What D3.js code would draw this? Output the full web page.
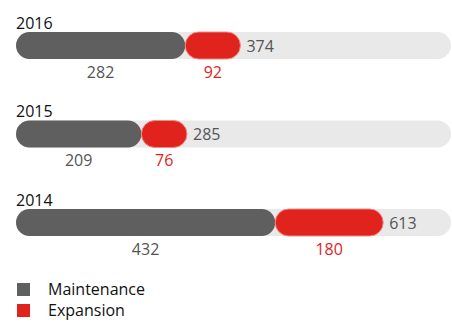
<!DOCTYPE html>
<html>
<head>
<meta charset="utf-8">
<script src="https://cdn.jsdelivr.net/npm/d3@7"></script>
<style>
body { margin: 0; background: #fff; }
svg text { font-family: "Open Sans", "Noto Sans", sans-serif; }
</style>
</head>
<body>
<svg id="svg" width="452" height="322"></svg>
<script>
const years = ['2016', '2015', '2014'];
const maintenance = [282, 209, 432];
const expansion = [92, 76, 180];
const totals = [374, 285, 613];
const legendLabels = ['Maintenance', 'Expansion'];

const grey = '#5f5f5f', red = '#e0231c', track = '#e9e9e9';
const barH = 27;

const svg = d3.select('#svg');

const x = d3.scaleLinear().domain([0, 725]).range([16, 451]);
const y = d3.scalePoint().domain(years).range([45.5, 222.5]);

const rows = svg.selectAll('g.row')
    .data(years.map((yr, i) => ({yr, m: maintenance[i], e: expansion[i], t: totals[i]})))
    .join('g')
    .attr('class', 'row')
    .attr('transform', d => `translate(0,${y(d.yr)})`);

// background track
rows.append('rect')
    .attr('x', x(0)).attr('y', -barH / 2)
    .attr('width', x(725) - x(0)).attr('height', barH)
    .attr('rx', barH / 2)
    .attr('fill', track);

// maintenance
rows.append('rect')
    .attr('x', x(0)).attr('y', -barH / 2)
    .attr('width', d => x(d.m) - x(0)).attr('height', barH)
    .attr('rx', barH / 2)
    .attr('fill', grey);

// expansion
rows.append('rect')
    .attr('x', d => x(d.m)).attr('y', -barH / 2)
    .attr('width', d => x(d.m + d.e) - x(d.m)).attr('height', barH)
    .attr('rx', barH / 2)
    .attr('fill', red)
    .attr('stroke', '#f08a85').attr('stroke-width', 1);

rows.append('text')
    .attr('x', x(0)).attr('y', -17)
    .attr('font-size', 16).attr('fill', '#111')
    .text(d => d.yr);

rows.append('text')
    .attr('x', d => x(d.m + d.e) + 6).attr('y', 6)
    .attr('font-size', 16).attr('fill', '#555')
    .text(d => d.t);

rows.append('text')
    .attr('x', d => (x(0) + x(d.m)) / 2).attr('y', 32)
    .attr('text-anchor', 'middle')
    .attr('font-size', 16).attr('fill', '#555')
    .text(d => d.m);

rows.append('text')
    .attr('x', d => (x(d.m) + x(d.m + d.e)) / 2).attr('y', 32)
    .attr('text-anchor', 'middle')
    .attr('font-size', 16).attr('fill', red)
    .text(d => d.e);

// legend
const legend = svg.selectAll('g.legend')
    .data(legendLabels)
    .join('g')
    .attr('class', 'legend')
    .attr('transform', (d, i) => `translate(17,${283 + i * 21})`);

legend.append('rect')
    .attr('width', 13).attr('height', 13)
    .attr('fill', (d, i) => i ? red : grey);

legend.append('text')
    .attr('x', 31).attr('y', 12)
    .attr('font-size', 16).attr('fill', '#111')
    .text(d => d);
</script>
</body>
</html>
